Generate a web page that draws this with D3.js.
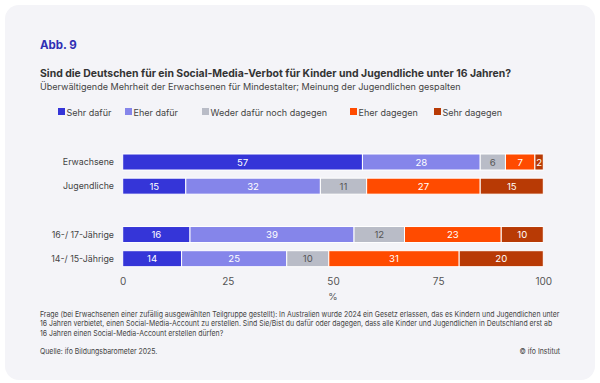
<!DOCTYPE html>
<html><head><meta charset="utf-8">
<script src="https://cdn.jsdelivr.net/npm/d3@7"></script>
<style>
html,body{margin:0;padding:0;background:#fff;}
svg{display:block;font-family:Inter,"Noto Sans",sans-serif;}
</style></head>
<body>
<svg id="c" width="600" height="383"></svg>
<script>
const categories = ["Erwachsene","Jugendliche","16-/ 17-Jährige","14-/ 15-Jährige"];
const seriesNames = ["Sehr dafür","Eher dafür","Weder dafür noch dagegen","Eher dagegen","Sehr dagegen"];
const sehrDafuer  = [57,15,16,14];
const eherDafuer  = [28,32,39,25];
const weder       = [6,11,12,10];
const eherDagegen = [7,27,23,31];
const sehrDagegen = [2,15,10,20];
const xTicks = [0,25,50,75,100];
const colors = ["#3535d8","#8585ea","#b9bcc7","#ff4b00","#b83a05"];
const labelColors = ["#fff","#fff","#555","#fff","#fff"];

const seriesValues = [sehrDafuer, eherDafuer, weder, eherDagegen, sehrDagegen];
const rows = categories.map((c,i)=>{const o={cat:c}; seriesNames.forEach((s,j)=>o[s]=seriesValues[j][i]); return o;});

const svg = d3.select("#c");
svg.append("rect").attr("x",5).attr("y",5).attr("width",590).attr("height",375).attr("rx",14).attr("fill","#f4f4f8");

svg.append("text").attr("x",40).attr("y",49).attr("font-size",11.5).attr("font-weight",700).attr("fill","#2f2fb4").text("Abb. 9");
svg.append("text").attr("x",40).attr("y",77).attr("font-size",10.45).attr("font-weight",700).attr("fill","#333").text("Sind die Deutschen für ein Social-Media-Verbot für Kinder und Jugendliche unter 16 Jahren?");
svg.append("text").attr("x",40).attr("y",89.5).attr("font-size",9.05).attr("fill","#444").text("Überwältigende Mehrheit der Erwachsenen für Mindestalter; Meinung der Jugendlichen gespalten");

// legend
const legX = [58,125,202,350,434];
const leg = svg.append("g");
seriesNames.forEach((s,i)=>{
  leg.append("rect").attr("x",legX[i]).attr("y",108).attr("width",7).attr("height",7).attr("fill",colors[i]);
  leg.append("text").attr("x",legX[i]+8.5).attr("y",115.5).attr("font-size",9).attr("fill","#444").text(s);
});

const x = d3.scaleLinear().domain([0,100]).range([122.7,543.3]);
const yDomain = [categories[0],categories[1],"__gap",categories[2],categories[3]];
const y = d3.scalePoint().domain(yDomain).range([162,258.7]);
const bh = 16;

const stack = d3.stack().keys(seriesNames)(rows);
const g = svg.append("g");
stack.forEach((layer,j)=>{
  const lg = g.append("g");
  lg.selectAll("rect").data(layer).join("rect")
    .attr("x",d=>x(d[0])).attr("y",d=>y(d.data.cat)-bh/2)
    .attr("width",d=>x(d[1])-x(d[0])).attr("height",bh)
    .attr("fill",colors[j]).attr("stroke","#fff").attr("stroke-width",1);
  lg.selectAll("text").data(layer).join("text")
    .attr("x",d=>(x(d[0])+x(d[1]))/2).attr("y",d=>y(d.data.cat)+3.5)
    .attr("text-anchor","middle").attr("font-size",9.6).attr("fill",labelColors[j])
    .text(d=>d[1]-d[0]);
});

// y labels
svg.append("g").selectAll("text").data(categories).join("text")
  .attr("x",114).attr("y",d=>y(d)+3.3).attr("text-anchor","end")
  .attr("font-size",8.8).attr("fill","#444").text(d=>d);

// x axis
const xa = svg.append("g").attr("transform","translate(0,272)")
  .call(d3.axisBottom(x).tickValues(xTicks).tickSize(0).tickPadding(6));
xa.select(".domain").remove();
xa.selectAll("text").attr("font-size",10).attr("fill","#555").attr("font-family","Inter, sans-serif");
svg.append("text").attr("x",x(50)).attr("y",300).attr("text-anchor","middle").attr("font-size",9.5).attr("fill","#555").text("%");

// footnote
const foot = [
 "Frage (bei Erwachsenen einer zufällig ausgewählten Teilgruppe gestellt): In Australien wurde 2024 ein Gesetz erlassen, das es Kindern und Jugendlichen unter",
 "16 Jahren verbietet, einen Social-Media-Account zu erstellen. Sind Sie/Bist du dafür oder dagegen, dass alle Kinder und Jugendlichen in Deutschland erst ab",
 "16 Jahren einen Social-Media-Account erstellen dürfen?"
];
const fg = svg.append("g");
const inner = fg.append("g");
inner.selectAll("text").data(foot).join("text")
  .attr("x",0).attr("y",(d,i)=>317+i*9.3).attr("font-size",7.8).attr("fill","#444").text(d=>d);
inner.append("text").attr("x",0).attr("y",354).attr("font-size",7.8).attr("fill","#444").text("Quelle: ifo Bildungsbarometer 2025.");
const len = inner.select("text").node().getComputedTextLength();
const k = 520/len;
inner.attr("transform",`translate(40,0) scale(${k},1)`);
const cr = svg.append("g").attr("transform",`translate(560,0) scale(${k},1)`);
cr.append("text").attr("x",0).attr("y",354).attr("text-anchor","end").attr("font-size",7.8).attr("fill","#444").text("© ifo Institut");
</script>
</body></html>
